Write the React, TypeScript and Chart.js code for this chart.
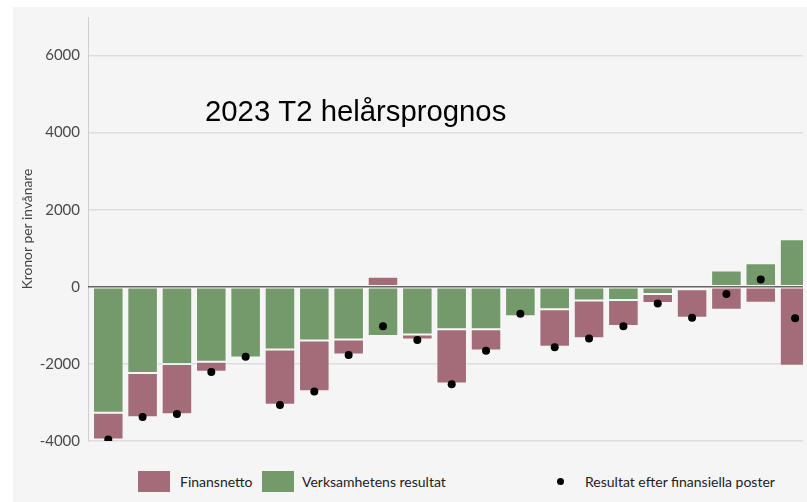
import React, { useEffect, useRef } from "react";
import { Chart, registerables } from "chart.js";

Chart.register(...registerables);

// 21 regioner (namn visas inte i diagrammet)
const kategorier = ["1", "2", "3", "4", "5", "6", "7", "8", "9", "10", "11", "12", "13", "14", "15", "16", "17", "18", "19", "20", "21"];

const verksamhetensResultat = [-3270, -2235, -2003, -1943, -1832, -1626, -1394, -1368, -1273, -1239, -1101, -1101, -766, -585, -354, -344, -189, -60, 426, 612, 1231];
const finansnetto = [-694, -1146, -1300, -258, 0, -1435, -1316, -387, 258, -129, -1410, -551, 70, -972, -980, -671, -232, -740, -594, -413, -2047];
const resultatEfterFinansiellaPoster = [-3964, -3380, -3300, -2210, -1815, -3065, -2715, -1770, -1023, -1380, -2530, -1660, -697, -1566, -1342, -1020, -430, -805, -189, 189, -818];

const yTicks = [-4000, -2000, 0, 2000, 4000, 6000];
const yMin = -4000;
const yMax = 7000;

const rubrik = "2023 T2 helårsprognos";
const yTitel = "Kronor per invånare";
const legendFinans = "Finansnetto";
const legendVerks = "Verksamhetens resultat";
const legendResultat = "Resultat efter finansiella poster";

const PINK = "rgb(164,108,120)";
const GREEN = "rgb(116,154,107)";

export default function App() {
  const ref = useRef<HTMLCanvasElement | null>(null);

  useEffect(() => {
    const canvas = ref.current;
    if (!canvas) return;

    const annotationPlugin = {
      id: "annot",
      afterDatasetsDraw(chart: any) {
        const { ctx, chartArea, scales } = chart;
        const y0 = scales.y.getPixelForValue(0);
        ctx.save();
        ctx.strokeStyle = "#666666";
        ctx.lineWidth = 1.5;
        ctx.beginPath();
        ctx.moveTo(chartArea.left, y0);
        ctx.lineTo(chartArea.right, y0);
        ctx.stroke();
        ctx.restore();
      },
      afterDraw(chart: any) {
        const { ctx } = chart;
        ctx.save();
        ctx.fillStyle = "#000000";
        ctx.font = '29.3px "Liberation Sans", Arial, sans-serif';
        ctx.textBaseline = "alphabetic";
        ctx.textAlign = "left";
        ctx.fillText(rubrik, 205, 121);
        ctx.restore();
      },
    };

    const barCommon = {
      type: "bar",
      borderColor: "rgba(255,255,255,0.35)",
      borderWidth: 1,
      borderSkipped: false,
      stack: "bars",
      barPercentage: 0.89,
      categoryPercentage: 1,
    };

    const chart = new Chart(canvas, {
      type: "bar",
      data: {
        datasets: [
          {
            ...barCommon,
            label: legendFinans,
            data: finansnetto.map((v, i) => ({ x: i, y: v, kategori: kategorier[i] })),
            backgroundColor: PINK,
            order: 2,
          },
          {
            ...barCommon,
            label: legendVerks,
            data: verksamhetensResultat.map((v, i) => ({ x: i, y: v, kategori: kategorier[i] })),
            backgroundColor: GREEN,
            order: 1,
          },
          {
            type: "scatter",
            label: legendResultat,
            data: resultatEfterFinansiellaPoster.map((v, i) => ({ x: i, y: v, kategori: kategorier[i] })),
            backgroundColor: "#000000",
            borderColor: "#000000",
            borderWidth: 0,
            pointRadius: 4,
            showLine: false,
            stack: "dots",
            order: 0,
            clip: 0,
          },
        ],
      },
      options: {
        animation: false,
        responsive: false,
        maintainAspectRatio: false,
        layout: { padding: { top: 14, bottom: 19, left: 0, right: 0 } },
        plugins: {
          legend: { display: false },
          tooltip: { enabled: false },
          title: { display: false },
        },
        scales: {
          x: {
            type: "linear",
            display: false,
            stacked: true,
            offset: false,
            bounds: "data",
            grace: 0,
            min: -0.59,
            max: 20.23,
            grid: { offset: false },
            afterBuildTicks: (scale: any) => {
              scale.ticks = kategorier.map((_, i) => ({ value: i }));
            },
          },
          y: {
            stacked: true,
            min: yMin,
            max: yMax,
            afterFit: (scale: any) => {
              scale.width = 88;
            },
            afterBuildTicks: (scale: any) => {
              scale.ticks = yTicks.map((v) => ({ value: v }));
            },
            ticks: {
              font: { family: "Lato", size: 15 },
              color: "#4a4a4a",
              padding: 8,
              callback: (v: any) => String(v),
            },
            title: {
              display: true,
              text: yTitel,
              font: { family: "Lato", size: 13.8 },
              color: "#444444",
              padding: { top: 19, bottom: 0 },
            },
            grid: {
              drawTicks: false,
              color: (c: any) => (c.tick && c.tick.value === 0 ? "rgba(0,0,0,0)" : "#dddddd"),
              lineWidth: 1.5,
            },
            border: { display: true, color: "#cfcfcf", width: 1 },
          },
        },
      },
      plugins: [annotationPlugin],
    } as any);

    return () => chart.destroy();
  }, []);

  const textStyle: React.CSSProperties = {
    position: "absolute",
    top: 473,
    fontFamily: "Lato, sans-serif",
    fontSize: 14,
    lineHeight: "17px",
    color: "#222222",
    whiteSpace: "nowrap",
  };

  return (
    <div
      style={{
        position: "fixed",
        left: 0,
        top: 0,
        width: 807,
        height: 502,
        overflow: "hidden",
        background: "#ffffff",
      }}
    >
      <div
        style={{
          position: "absolute",
          left: 13,
          top: 7,
          right: 0,
          bottom: 0,
          background: "#f5f5f5",
        }}
      />
      <canvas
        ref={ref}
        width={807}
        height={460}
        style={{ position: "absolute", left: 0, top: 0, display: "block" }}
      />
      <div style={{ position: "absolute", left: 138, top: 471, width: 32, height: 21, background: PINK }} />
      <div style={{ ...textStyle, left: 180 }}>{legendFinans}</div>
      <div style={{ position: "absolute", left: 262, top: 471, width: 32, height: 21, background: GREEN }} />
      <div style={{ ...textStyle, left: 302 }}>{legendVerks}</div>
      <div
        style={{
          position: "absolute",
          left: 557,
          top: 478,
          width: 7,
          height: 7,
          borderRadius: "50%",
          background: "#000000",
        }}
      />
      <div style={{ ...textStyle, left: 585 }}>{legendResultat}</div>
    </div>
  );
}
